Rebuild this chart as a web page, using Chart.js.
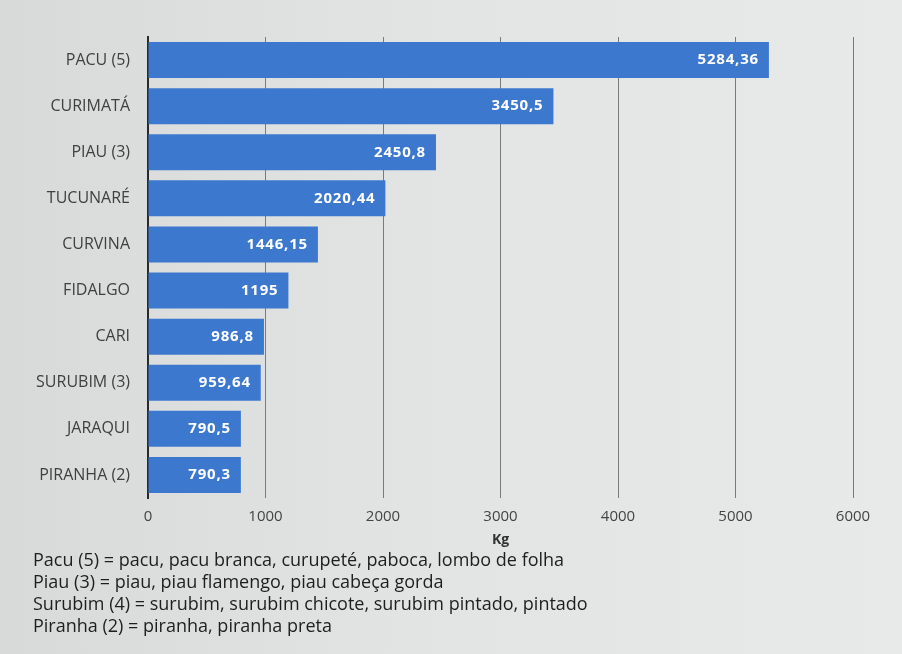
<!DOCTYPE html>
<html>
<head>
<meta charset="utf-8">
<script src="https://cdn.jsdelivr.net/npm/chart.js@4"></script>
<style>
  html, body { margin: 0; padding: 0; }
  body {
    width: 902px; height: 654px; overflow: hidden; position: relative;
    background: linear-gradient(90deg, #d8d9d9 0%, #e2e3e3 45%, #e8e9e9 100%);
    font-family: "Open Sans", sans-serif;
  }
  #wrap { position: absolute; left: 0; top: 0; width: 902px; height: 654px; }
  #nota {
    position: absolute; left: 33px; top: 548px;
    font-size: 18px; line-height: 22px; color: #1e1e1e; letter-spacing: 0px;
  }
</style>
</head>
<body>
<div id="wrap"><canvas id="pescaChart"></canvas></div>
<div id="nota">
  Pacu (5) = pacu, pacu branca, curupeté, paboca, lombo de folha<br>
  Piau (3) = piau, piau flamengo, piau cabeça gorda<br>
  Surubim (4) = surubim, surubim chicote, surubim pintado, pintado<br>
  Piranha (2) = piranha, piranha preta
</div>
<script>
const especies = ['PACU (5)', 'CURIMATÁ', 'PIAU (3)', 'TUCUNARÉ', 'CURVINA',
    'FIDALGO', 'CARI', 'SURUBIM (3)', 'JARAQUI', 'PIRANHA (2)'];
const pesoKg = [5284.36, 3450.5, 2450.8, 2020.44, 1446.15, 1195, 986.8, 959.64, 790.5, 790.3];
const eixoMax = 6000;
const eixoPasso = 1000;

// valores dentro da barra, com vírgula decimal
const rotulos = {
    id: 'rotulos',
    afterDatasetsDraw(chart) {
        const ctx = chart.ctx;
        const meta = chart.getDatasetMeta(0);
        ctx.save();
        ctx.font = 'bold 15px "Open Sans", sans-serif';
        ctx.letterSpacing = '0.8px';
        ctx.fillStyle = '#ffffff';
        ctx.textAlign = 'right';
        ctx.textBaseline = 'middle';
        meta.data.forEach((bar, i) => {
            const txt = String(pesoKg[i]).replace('.', ',');
            ctx.fillText(txt, bar.x - 10, bar.y);
        });
        ctx.restore();
    }
};

new Chart(document.getElementById('pescaChart'), {
    type: 'bar',
    data: {
        labels: especies,
        datasets: [{
            data: pesoKg,
            backgroundColor: '#3d78cf',
            categoryPercentage: 0.78,
            barPercentage: 1
        }]
    },
    options: {
        indexAxis: 'y',
        responsive: true,
        maintainAspectRatio: false,
        animation: false,
        layout: { padding: { top: 37, right: 49, bottom: 106, left: 0 } },
        plugins: {
            legend: { display: false },
            tooltip: { enabled: false }
        },
        scales: {
            x: {
                min: 0,
                max: eixoMax,
                afterFit(scale) { scale.height = 50; },
                ticks: {
                    stepSize: eixoPasso,
                    padding: 10,
                    color: '#444',
                    font: { family: '"Open Sans", sans-serif', size: 15 },
                    callback: (v) => String(v)
                },
                grid: { color: '#7a7a7a', lineWidth: 1, drawTicks: false },
                border: { display: false },
                title: {
                    display: true,
                    text: 'Kg',
                    color: '#333',
                    padding: 0,
                    font: { family: '"Open Sans", sans-serif', size: 14, weight: 'bold' }
                }
            },
            y: {
                afterFit(scale) { scale.width = 148; },
                ticks: {
                    padding: 18,
                    color: '#404040',
                    font: { family: '"Open Sans", sans-serif', size: 16 }
                },
                grid: { display: false, drawTicks: false },
                border: { display: true, color: '#2a2a2a', width: 2 }
            }
        }
    },
    plugins: [rotulos]
});
</script>
</body>
</html>
